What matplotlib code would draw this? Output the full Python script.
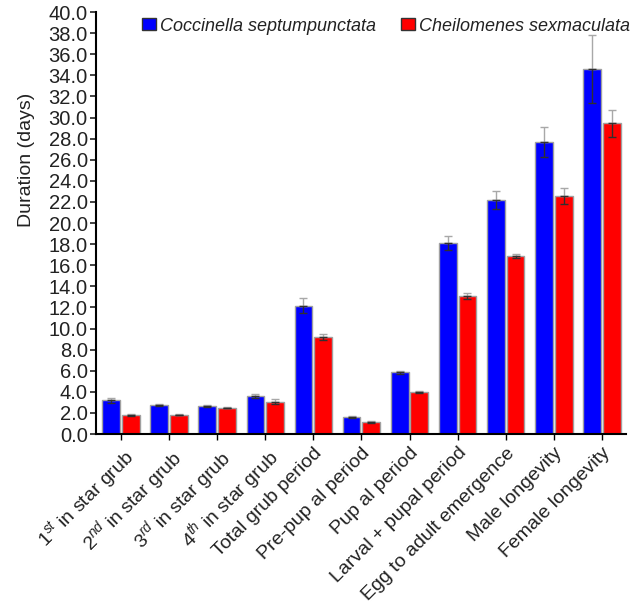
import numpy as np
import matplotlib
matplotlib.use("Agg")
import matplotlib.pyplot as plt
import matplotlib.transforms as mtransforms

plt.rcParams['font.family'] = ['Liberation Sans', 'DejaVu Sans']
plt.rcParams['mathtext.fontset'] = 'custom'
plt.rcParams['mathtext.rm'] = 'Liberation Sans'
plt.rcParams['mathtext.it'] = 'Liberation Sans:italic'

stages = [r"1$^{st}$ in star grub", r"2$^{nd}$ in star grub", r"3$^{rd}$ in star grub",
          r"4$^{th}$ in star grub", "Total grub period", "Pre-pup al period",
          "Pup al period", "Larval + pupal period", "Egg to adult emergence",
          "Male longevity", "Female longevity"]
c_sept = [3.2, 2.76, 2.67, 3.62, 12.16, 1.6, 5.84, 18.1, 22.15, 27.7, 34.6]
c_sept_err = [0.25, 0.12, 0.1, 0.22, 0.7, 0.12, 0.13, 0.65, 0.85, 1.4, 3.2]
c_sex = [1.84, 1.81, 2.51, 3.08, 9.17, 1.17, 3.97, 13.11, 16.89, 22.6, 29.45]
c_sex_err = [0.1, 0.05, 0.08, 0.2, 0.3, 0.08, 0.07, 0.3, 0.18, 0.75, 1.25]

x = np.arange(len(stages))
w = 0.37
off = 0.205

fig = plt.figure(figsize=(6.38, 6.06), dpi=100)
ax = fig.add_axes([0.1505, 0.2838, 0.8305, 0.6962])

b1 = ax.bar(x - off, c_sept, w, color='#0000ff', edgecolor='#a0a0a0', linewidth=1,
            label='Coccinella septumpunctata')
b2 = ax.bar(x + off, c_sex, w, color='#ff0000', edgecolor='#a0a0a0', linewidth=1,
            label='Cheilomenes sexmaculata')

for xs, vals, errs in [(x - off, c_sept, c_sept_err), (x + off, c_sex, c_sex_err)]:
    z = np.zeros(len(vals))
    # upper half light grey, lower half dark, as in the original
    ax.errorbar(xs, vals, yerr=[z, errs], fmt='none', ecolor='#a8a8a8',
                elinewidth=1, capsize=3.2, capthick=1)
    ax.errorbar(xs, vals, yerr=[errs, z], fmt='none', ecolor='#303030',
                elinewidth=1, capsize=3.2, capthick=1)

ax.set_xlim(-0.52, 10.5)
ax.set_ylim(0, 40)
ax.set_yticks(np.arange(0, 41, 2))
ax.set_yticklabels(["%.1f" % v for v in np.arange(0, 41, 2)], fontsize=14.5)
ax.set_xticks(x)
ax.set_xticklabels(stages, fontsize=14, rotation=45, ha='right', va='top',
                   rotation_mode='anchor', color='#222222')
for lab in ax.get_xticklabels():
    lab.set_transform(lab.get_transform() +
                      mtransforms.ScaledTranslation(4 / 72, 0, fig.dpi_scale_trans))
ax.tick_params(axis='y', length=4, width=1.2, pad=2, colors='#222222')
ax.tick_params(axis='x', length=4, width=1, pad=3.5)
for s in ['top', 'right']:
    ax.spines[s].set_visible(False)
ax.spines['left'].set_linewidth(1.5)
ax.spines['bottom'].set_linewidth(1.5)

ax.set_ylabel("Duration (days)", fontsize=14, color='#222222')
ax.yaxis.set_label_coords(-0.115, 0.65)

leg = fig.legend(handles=[b1, b2], loc='center left', bbox_to_anchor=(0.222, 0.957),
                 ncol=2, frameon=False, prop={'style': 'italic', 'size': 13},
                 handlelength=0.8, handleheight=0.6, handletextpad=0.2,
                 columnspacing=1.4, borderpad=0, borderaxespad=0)
for h in leg.legend_handles:
    h.set_edgecolor('#333333')
for t in leg.get_texts():
    t.set_color('#222222')

fig.savefig("out.png", dpi=100)
